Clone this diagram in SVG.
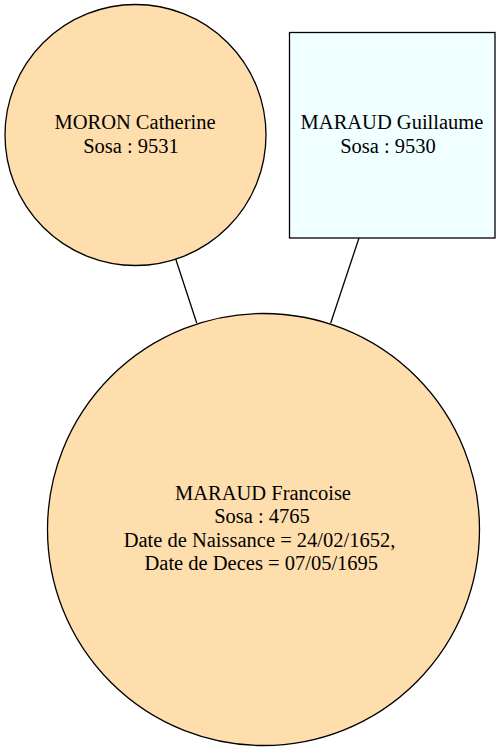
<svg xmlns="http://www.w3.org/2000/svg" width="501" height="751" viewBox="0 0 501 751">
<style>
.node{stroke:#000;stroke-width:1.3}
.f{fill:#ffdead}
.m{fill:#f0ffff}
.edge{stroke:#000;stroke-width:1.3;fill:none}
.t{font-family:'Liberation Serif','Times New Roman',Times,serif;font-size:20.5px;fill:#000;text-anchor:middle}
</style>
<rect width="501" height="751" fill="#fff"/>
<g id="edges">
<line class="edge" x1="175.7" y1="259" x2="196.7" y2="323"/>
<line class="edge" x1="359" y1="238" x2="330.7" y2="323"/>
</g>
<g id="n9531" class="t" font-family="Liberation Serif, serif">
<circle class="node f" cx="135.5" cy="135" r="130.5"/>
<text x="135" y="129">MORON Catherine</text>
<text x="131" y="152.5">Sosa : 9531</text>
</g>
<g id="n9530" class="t" font-family="Liberation Serif, serif">
<rect class="node m" x="289.5" y="32.5" width="205.5" height="205.5"/>
<text x="392" y="129">MARAUD Guillaume</text>
<text x="388" y="152.5">Sosa : 9530</text>
</g>
<g id="n4765" class="t" font-family="Liberation Serif, serif">
<circle class="node f" cx="263.5" cy="529.5" r="216"/>
<text x="263" y="500">MARAUD Francoise</text>
<text x="262" y="523">Sosa : 4765</text>
<text x="259.5" y="546.5">Date de Naissance = 24/02/1652,</text>
<text x="261.3" y="570">Date de Deces = 07/05/1695</text>
</g>
</svg>
